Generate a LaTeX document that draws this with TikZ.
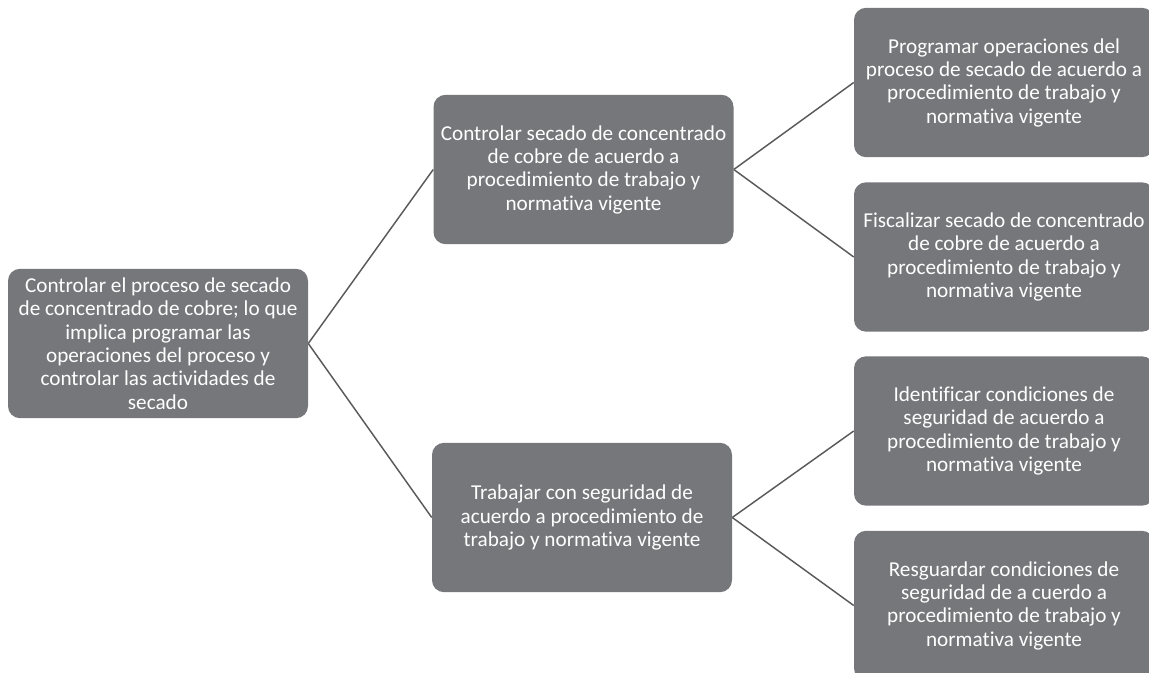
\documentclass[tikz,border=0pt]{standalone}
\usepackage{fontspec}
\setmainfont[Ligatures=NoCommon]{Carlito}
\usepackage{tikz}
\definecolor{boxgray}{RGB}{118,119,123}
\definecolor{linegray}{RGB}{90,90,90}

\begin{document}
\begin{tikzpicture}[x=0.75pt,y=-0.75pt,
	tarea/.style={fill=boxgray, rounded corners=9pt, text=white, align=center,
		minimum width=225pt, minimum height=112pt, inner sep=1pt, font=\fontsize{15.9}{17.5}\selectfont},
	rama/.style={draw=linegray, line width=1.1pt}]
\useasboundingbox (0,0) rectangle (1149,673);
\begin{scope}
\clip (0,0) rectangle (1149,673);
\node[tarea] (raiz) at (158,343.5) {Controlar el proceso de secado\\de concentrado de cobre; lo que\\implica programar las\\operaciones del proceso y\\controlar las actividades de\\secado};
\node[tarea] (secado) at (583.5,169.5) {Controlar secado de concentrado\\de cobre de acuerdo a\\procedimiento de trabajo y\\normativa vigente};
\node[tarea] (seguridad) at (582,517.5) {Trabajar con seguridad de\\acuerdo a procedimiento de\\trabajo y normativa vigente};
\node[tarea] (programar) at (1004,82.5) {Programar operaciones del\\proceso de secado de acuerdo a\\procedimiento de trabajo y\\normativa vigente};
\node[tarea] (fiscalizar) at (1004,257) {Fiscalizar secado de concentrado\\de cobre de acuerdo a\\procedimiento de trabajo y\\normativa vigente};
\node[tarea] (identificar) at (1004,431) {Identificar condiciones de\\seguridad de acuerdo a\\procedimiento de trabajo y\\normativa vigente};
\node[tarea] (resguardar) at (1004,605.5) {Resguardar condiciones de\\seguridad de a cuerdo a\\procedimiento de trabajo y\\normativa vigente};
\end{scope}
\draw[rama] (raiz.east) -- (secado.west);
\draw[rama] (raiz.east) -- (seguridad.west);
\draw[rama] (secado.east) -- (programar.west);
\draw[rama] (secado.east) -- (fiscalizar.west);
\draw[rama] (seguridad.east) -- (identificar.west);
\draw[rama] (seguridad.east) -- (resguardar.west);
\end{tikzpicture}
\end{document}
